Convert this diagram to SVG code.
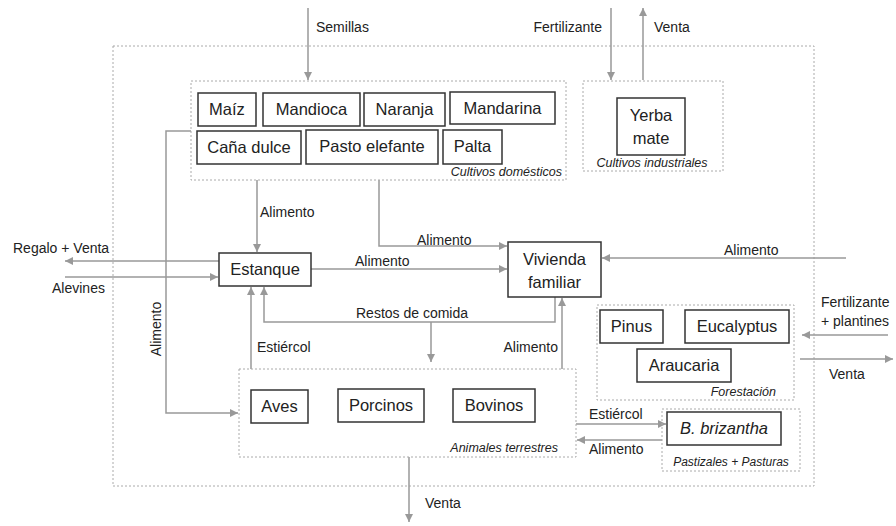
<svg xmlns="http://www.w3.org/2000/svg" width="896" height="526" viewBox="0 0 896 526">
<style>
text{font-family:"Liberation Sans",Arial,sans-serif;fill:#222}
.lbl{font-size:14px}
.bx{font-size:16.5px;text-anchor:middle}
.cap{font-size:12.5px;font-style:italic}
.box{fill:#fff;stroke:#333;stroke-width:1.5}
.grp{fill:none;stroke:#aaa;stroke-width:1;stroke-dasharray:2,2}
.c{fill:none;stroke:#999;stroke-width:1.5;marker-end:url(#ah)}
</style>
<defs>
<marker id="ah" viewBox="0 0 10 10" refX="10" refY="5" markerWidth="9" markerHeight="8" markerUnits="userSpaceOnUse" orient="auto"><path d="M0,0 L10,5 L0,10 z" fill="#999"/></marker>
</defs>
<rect width="896" height="526" fill="#fff"/>
<g id="system"><rect class="grp" x="113" y="46" width="701" height="440"/></g>

<g id="connectors">
<path class="c" d="M308,8 V80"/>
<path class="c" d="M611,8 V80"/>
<path class="c" d="M643,80 V8"/>
<path class="c" d="M257,180 V252"/>
<path class="c" d="M379,180 V246 H507"/>
<path class="c" d="M311,269 H507"/>
<path class="c" d="M555,297 V322 H264 V287"/>
<path class="c" d="M431,322 V362"/>
<path class="c" d="M219,261 H65"/>
<path class="c" d="M65,277 H218"/>
<path class="c" d="M191,131 H166 V413 H238"/>
<path class="c" d="M251,369 V287"/>
<path class="c" d="M562,369 V298"/>
<path class="c" d="M409,457 V522"/>
<path class="c" d="M846,258 H602"/>
<path class="c" d="M888,335 H802"/>
<path class="c" d="M800,359 H893"/>
<path class="c" d="M576,424 H666"/>
<path class="c" d="M662,440 H577"/>
<text class="lbl" x="316" y="32">Semillas</text>
<text class="lbl" x="602" y="32" text-anchor="end">Fertilizante</text>
<text class="lbl" x="654" y="32">Venta</text>
<text class="lbl" x="260" y="217">Alimento</text>
<text class="lbl" x="417" y="245">Alimento</text>
<text class="lbl" x="355" y="266">Alimento</text>
<text class="lbl" x="356" y="318">Restos de comida</text>
<text class="lbl" x="13" y="253">Regalo + Venta</text>
<text class="lbl" x="52" y="293">Alevines</text>
<text class="lbl" transform="translate(161,329) rotate(-90)" text-anchor="middle">Alimento</text>
<text class="lbl" x="257" y="352">Estiércol</text>
<text class="lbl" x="558" y="352" text-anchor="end">Alimento</text>
<text class="lbl" x="425" y="508">Venta</text>
<text class="lbl" x="724" y="255">Alimento</text>
<text class="lbl" x="821" y="307">Fertilizante</text>
<text class="lbl" x="821" y="326">+ plantines</text>
<text class="lbl" x="829" y="379">Venta</text>
<text class="lbl" x="589" y="419">Estiércol</text>
<text class="lbl" x="589" y="454">Alimento</text>
</g>

<g id="cultivos-domesticos">
<rect class="grp" x="191" y="81" width="375" height="99"/>
<text class="cap" x="562" y="176" text-anchor="end">Cultivos domésticos</text>
</g>
<g id="maiz"><rect class="box" x="198" y="93" width="58" height="33"/><text class="bx" x="227" y="115">Maíz</text></g>
<g id="mandioca"><rect class="box" x="263" y="93" width="97" height="33"/><text class="bx" x="311.5" y="115">Mandioca</text></g>
<g id="naranja"><rect class="box" x="364" y="93" width="81" height="33"/><text class="bx" x="404.5" y="115">Naranja</text></g>
<g id="mandarina"><rect class="box" x="450" y="92" width="105" height="32"/><text class="bx" x="502.5" y="114">Mandarina</text></g>
<g id="cana-dulce"><rect class="box" x="197" y="131" width="104" height="33"/><text class="bx" x="249" y="153">Caña dulce</text></g>
<g id="pasto-elefante"><rect class="box" x="306" y="130" width="132" height="34"/><text class="bx" x="372" y="152">Pasto elefante</text></g>
<g id="palta"><rect class="box" x="443" y="130" width="59" height="34"/><text class="bx" x="472.5" y="152">Palta</text></g>

<g id="cultivos-industriales">
<rect class="grp" x="583" y="81" width="140" height="90"/>
<text class="cap" x="652" y="167" text-anchor="middle">Cultivos industriales</text>
</g>
<g id="yerba-mate"><rect class="box" x="617" y="98" width="68" height="57"/><text class="bx" x="651" y="121">Yerba</text><text class="bx" x="651" y="144">mate</text></g>

<g id="estanque"><rect class="box" x="219" y="253" width="92" height="33"/><text class="bx" x="265" y="275">Estanque</text></g>
<g id="vivienda"><rect class="box" x="508" y="242" width="93" height="55"/><text class="bx" x="554.5" y="265">Vivienda</text><text class="bx" x="554.5" y="288">familiar</text></g>

<g id="forestacion">
<rect class="grp" x="597" y="305" width="197" height="95"/>
<text class="cap" x="776" y="396" text-anchor="end">Forestación</text>
</g>
<g id="pinus"><rect class="box" x="600" y="310" width="63" height="33"/><text class="bx" x="631.5" y="332">Pinus</text></g>
<g id="eucalyptus"><rect class="box" x="685" y="310" width="104" height="33"/><text class="bx" x="737" y="332">Eucalyptus</text></g>
<g id="araucaria"><rect class="box" x="637" y="349" width="94" height="33"/><text class="bx" x="684" y="371">Araucaria</text></g>

<g id="animales-terrestres">
<rect class="grp" x="239" y="369" width="337" height="88"/>
<text class="cap" x="558" y="452" text-anchor="end">Animales terrestres</text>
</g>
<g id="aves"><rect class="box" x="251" y="390" width="57" height="33"/><text class="bx" x="279.5" y="412">Aves</text></g>
<g id="porcinos"><rect class="box" x="338" y="389" width="86" height="33"/><text class="bx" x="381" y="411">Porcinos</text></g>
<g id="bovinos"><rect class="box" x="453" y="389" width="82" height="33"/><text class="bx" x="494" y="411">Bovinos</text></g>

<g id="pastizales">
<rect class="grp" x="662" y="409" width="138" height="62"/>
<text class="cap" x="731" y="466" text-anchor="middle" style="font-size:12px">Pastizales + Pasturas</text>
</g>
<g id="brizantha"><rect class="box" x="667" y="412" width="114" height="33"/><text class="bx" x="724" y="434" font-style="italic">B. brizantha</text></g>
</svg>
